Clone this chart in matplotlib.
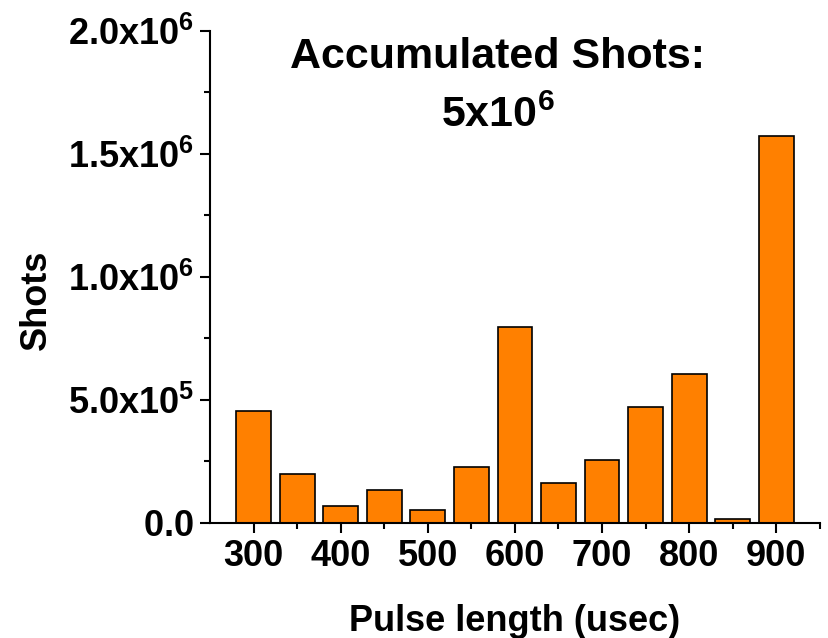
import matplotlib
matplotlib.use('Agg')
import matplotlib.pyplot as plt
from matplotlib.ticker import MultipleLocator, FixedLocator

plt.rcParams['font.family'] = 'Liberation Sans'
plt.rcParams['font.weight'] = 'bold'
plt.rcParams['mathtext.fontset'] = 'custom'
plt.rcParams['mathtext.rm'] = 'Liberation Sans:bold'
plt.rcParams['mathtext.bf'] = 'Liberation Sans:bold'

# Data
pulse_lengths = [300, 350, 400, 450, 500, 550, 600, 650, 700, 750, 800, 850, 900]
shots = [4.54e5, 1.97e5, 0.69e5, 1.33e5, 0.53e5, 2.28e5, 7.94e5,
         1.61e5, 2.56e5, 4.69e5, 6.06e5, 0.15e5, 1.57e6]
y_ticks = [0, 5e5, 1e6, 1.5e6, 2e6]
y_tick_labels = [r'$\mathrm{0.0}$', r'$\mathrm{5.0x10^{5}}$', r'$\mathrm{1.0x10^{6}}$',
                 r'$\mathrm{1.5x10^{6}}$', r'$\mathrm{2.0x10^{6}}$']

fig = plt.figure(figsize=(8.29, 6.38), dpi=100)
ax = fig.add_axes([0.2533, 0.1807, 0.7357, 0.7712])

ax.bar(pulse_lengths, shots, width=40, color='#FF8000', edgecolor='black', linewidth=1.2)

ax.set_xlim(250, 950)
ax.set_ylim(0, 2e6)

ax.spines['top'].set_visible(False)
ax.spines['right'].set_visible(False)
ax.spines['left'].set_linewidth(1.5)
ax.spines['bottom'].set_linewidth(1.5)

ax.xaxis.set_major_locator(FixedLocator([300, 400, 500, 600, 700, 800, 900]))
ax.xaxis.set_minor_locator(FixedLocator([350, 450, 550, 650, 750, 850, 950]))
ax.set_yticks(y_ticks)
ax.set_yticklabels(y_tick_labels)
ax.yaxis.set_minor_locator(MultipleLocator(2.5e5))

ax.tick_params(axis='both', which='major', direction='out', length=7.5, width=1.5, labelsize=26)
ax.tick_params(axis='both', which='minor', direction='out', length=4.5, width=1.5)
ax.tick_params(axis='x', which='major', pad=4)
ax.tick_params(axis='y', which='major', pad=4)

ax.set_xlabel('Pulse length (usec)', fontsize=26, fontweight='bold', labelpad=22)
ax.set_ylabel('Shots', fontsize=26, fontweight='bold')
ax.yaxis.set_label_coords(-0.256, 0.453)

ax.text(0.472, 0.924, 'Accumulated Shots:', transform=ax.transAxes, ha='center', va='baseline',
        fontsize=31, fontweight='bold')
ax.text(0.472, 0.804, r'$\mathrm{5x10^{6}}$', transform=ax.transAxes, ha='center', va='baseline',
        fontsize=31)

fig.savefig('out.png', dpi=100)
